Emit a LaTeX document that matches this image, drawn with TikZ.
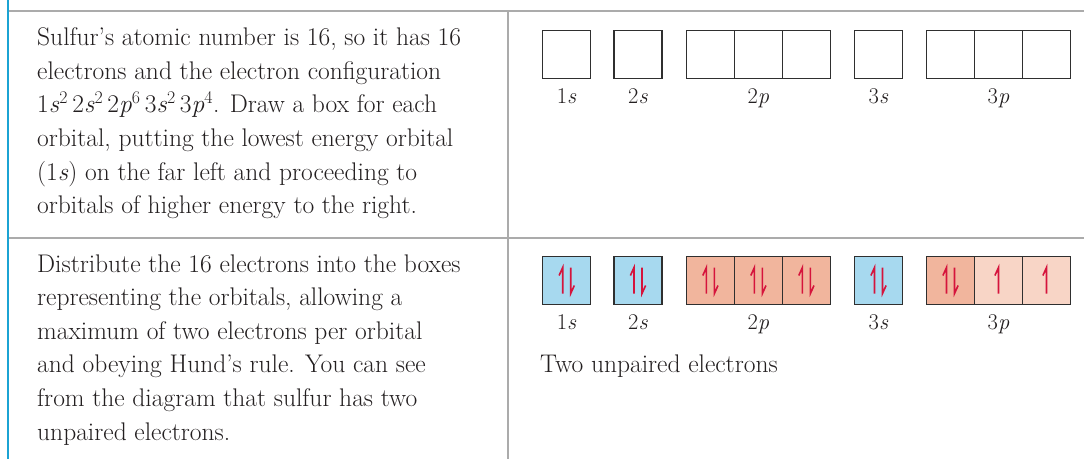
\documentclass[tikz,border=0pt]{standalone}
\usepackage{fontspec}
\usetikzlibrary{calc}
\definecolor{txtc}{HTML}{231F20}
\definecolor{rulec}{HTML}{ABABAB}
\definecolor{edgec}{HTML}{1BA3D3}
\definecolor{sblue}{HTML}{A7D9EF}
\definecolor{psalm}{HTML}{F1B59D}
\definecolor{plight}{HTML}{F8D5C6}
\definecolor{arrc}{HTML}{D5143C}
\definecolor{boxc}{HTML}{2F2F2F}
\tikzset{
  rulegrey/.style={draw=rulec, line width=2pt},
  ruleblue/.style={draw=edgec, line width=2.2pt},
  para/.style={align=left, inner sep=0pt, text=txtc, font=\fontsize{25.5}{33.6}\selectfont},
  obox/.style={draw=boxc, line width=1.3pt, minimum width=48pt, minimum height=48pt, inner sep=0pt},
  olabel/.style={inner sep=0pt, text=txtc, font=\fontsize{22.5}{26}\selectfont, anchor=base},
  spin/.style={draw=arrc, line width=1.6pt, line join=miter, line cap=butt},
}
\newcommand{\pairspin}[1]{%
  \draw[spin] ($(#1)+(-4,13)$) -- ($(#1)+(-4,-13)$) -- ($(#1)+(-7.6,-5)$);
  \draw[spin] ($(#1)+(4,-13)$) -- ($(#1)+(4,13)$) -- ($(#1)+(7.6,5)$);}
\newcommand{\onespin}[1]{%
  \draw[spin] ($(#1)+(0,13)$) -- ($(#1)+(0,-13)$) -- ($(#1)+(-3.6,-5)$);}
\begin{document}
\begin{tikzpicture}[x=1pt,y=-1pt]
\useasboundingbox (0,0) rectangle (1084,459);
\fill[white] (0,0) rectangle (1084,459);
% frame
\coordinate (bt) at (8,0);
\coordinate (bb) at (8,459);
\coordinate (h1a) at (8,11);
\coordinate (h1b) at (1084,11);
\coordinate (h2a) at (8,238);
\coordinate (h2b) at (1084,238);
\coordinate (vt) at (508,11);
\coordinate (vb) at (508,459);
\draw[rulegrey] (h1a) -- (h1b);
\draw[rulegrey] (h2a) -- (h2b);
\draw[rulegrey] (vt) -- (vb);
\draw[ruleblue] (bt) -- (bb);
% left texts (anchored at the baseline of their last line)
\node[para, anchor=base west] (ta) at (37,213.7) {Sulfur’s atomic number is 16, so it has 16\\
electrons and the electron configuration\\
1\textit{s}\textsuperscript{2}\,2\textit{s}\textsuperscript{2}\,2\textit{p}\textsuperscript{6}\,3\textit{s}\textsuperscript{2}\,3\textit{p}\textsuperscript{4}. Draw a box for each\\
orbital, putting the lowest energy orbital\\
(1\textit{s}) on the far left and proceeding to\\
orbitals of higher energy to the right.};
\node[para, anchor=base west] (tb) at (37,440) {Distribute the 16 electrons into the boxes\\
representing the orbitals, allowing a\\
maximum of two electrons per orbital\\
and obeying Hund’s rule. You can see\\
from the diagram that sulfur has two\\
unpaired electrons.};
% top row of empty boxes
\node[obox] (a1s) at (566.7,54.2) {};
\node[obox] (a2s) at (638,54.2) {};
\node[obox] (a2pa) at (710.4,54.2) {};
\node[obox] (a2pb) at (758.4,54.2) {};
\node[obox] (a2pc) at (806.4,54.2) {};
\node[obox] (a3s) at (878.5,54.2) {};
\node[obox] (a3pa) at (950.5,54.2) {};
\node[obox] (a3pb) at (998.5,54.2) {};
\node[obox] (a3pc) at (1046.5,54.2) {};
\node[olabel] (la1s) at (566.7,103) {1\textit{s}};
\node[olabel] (la2s) at (638,103) {2\textit{s}};
\node[olabel] (la2p) at (758.4,103) {2\textit{p}};
\node[olabel] (la3s) at (878.5,103) {3\textit{s}};
\node[olabel] (la3p) at (998.5,103) {3\textit{p}};
% bottom row of filled boxes
\node[obox, fill=sblue] (b1s) at (566.7,280.5) {};
\node[obox, fill=sblue] (b2s) at (638,280.5) {};
\node[obox, fill=psalm] (b2pa) at (710.4,280.5) {};
\node[obox, fill=psalm] (b2pb) at (758.4,280.5) {};
\node[obox, fill=psalm] (b2pc) at (806.4,280.5) {};
\node[obox, fill=sblue] (b3s) at (878.5,280.5) {};
\node[obox, fill=psalm] (b3pa) at (950.5,280.5) {};
\node[obox, fill=plight] (b3pb) at (998.5,280.5) {};
\node[obox, fill=plight] (b3pc) at (1046.5,280.5) {};
\pairspin{b1s}
\pairspin{b2s}
\pairspin{b2pa}
\pairspin{b2pb}
\pairspin{b2pc}
\pairspin{b3s}
\pairspin{b3pa}
\onespin{b3pb}
\onespin{b3pc}
\node[olabel] (lb1s) at (566.7,329.5) {1\textit{s}};
\node[olabel] (lb2s) at (638,329.5) {2\textit{s}};
\node[olabel] (lb2p) at (758.4,329.5) {2\textit{p}};
\node[olabel] (lb3s) at (878.5,329.5) {3\textit{s}};
\node[olabel] (lb3p) at (998.5,329.5) {3\textit{p}};
\node[para, anchor=base west] (unp) at (540,372) {Two unpaired electrons};
\end{tikzpicture}
\end{document}
